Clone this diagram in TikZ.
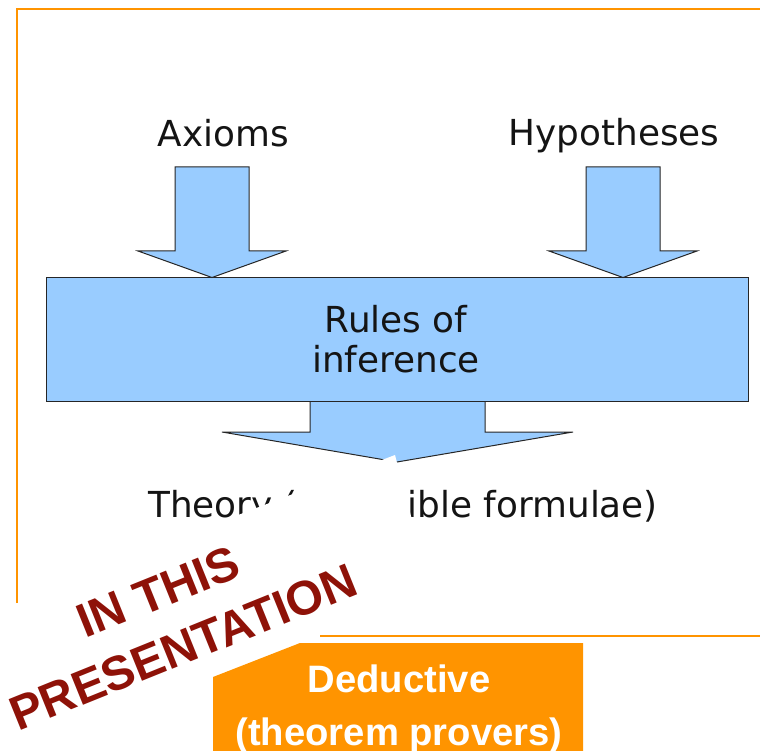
\documentclass[tikz,border=0pt]{standalone}
\usepackage{fontspec}
\setmainfont{DejaVu Sans}
\newfontfamily\wmfont{Liberation Sans}
\definecolor{frameorange}{RGB}{255,148,0}
\definecolor{blockblue}{RGB}{153,204,255}
\definecolor{wmred}{RGB}{142,18,8}
\definecolor{txtdark}{RGB}{20,20,20}
\begin{document}
\begin{tikzpicture}[x=1pt,y=-1pt,
  blockshape/.style={fill=blockblue,draw=black!85,line width=1pt,line join=miter},
  difftext/.style={font=\fontsize{35.8}{40}\selectfont,text=txtdark,inner sep=0pt,anchor=base},
  wmtext/.style={font=\wmfont\bfseries\fontsize{48}{52}\selectfont,text=wmred,inner sep=0pt,anchor=base,rotate=22},
  boxtext/.style={font=\wmfont\bfseries\fontsize{38.2}{42}\selectfont,text=white,inner sep=0pt,anchor=base},
  frameline/.style={draw=frameorange,line width=2pt}]
\useasboundingbox (0,0) rectangle (760,751);
% frame lines
\coordinate (ftl) at (17,9);
\coordinate (ftr) at (760,9);
\coordinate (fbl) at (17,603);
\coordinate (fbs) at (320,636);
\coordinate (fbe) at (760,636);
\draw[frameline] (fbl) -- (ftl) -- (ftr);
\draw[frameline] (fbs) -- (fbe);
% bottom arrow (under the box)
\draw[blockshape] (310,395) -- (310,432) -- (222,432) -- (397,462) -- (573,432) -- (485,432) -- (485,395);
% rules box
\node[blockshape,minimum width=702pt,minimum height=123pt,inner sep=0pt] (rules) at (397,339.5) {};
\node[difftext] (rules1) at (396,332) {Rules of};
\node[difftext] (rules2) at (396,372) {inference};
% top arrows
\draw[blockshape] (175,167) -- (249,167) -- (249,251) -- (286,251) -- (212,277.5) -- (138,251) -- (175,251) -- cycle;
\draw[blockshape] (586,167) -- (660,167) -- (660,251) -- (697,251) -- (623,277.5) -- (549,251) -- (586,251) -- cycle;
\node[difftext] (axioms) at (223.5,147) {Axioms};
\node[difftext] (hyp) at (614,146) {Hypotheses};
% theory text
\node[difftext,anchor=base west] (theory) at (148,517) {Theory (deducible formulae)};
% white occluding band
\fill[white] (395,455) -- (21,598) -- (57,691) -- (433,600) -- cycle;
% orange box
\fill[frameorange] (213,751) -- (213,677) -- (300,643) -- (583,643) -- (583,751) -- cycle;
\node[boxtext] (ded1) at (399,692) {Deductive};
\node[boxtext] (ded2) at (399,745) {(theorem provers)};
% watermark
\node[wmtext] (wm1) at (164.3,607) {IN THIS};
\node[wmtext] (wm2) at (189.3,662.6) {PRESENTATION};
\end{tikzpicture}
\end{document}
